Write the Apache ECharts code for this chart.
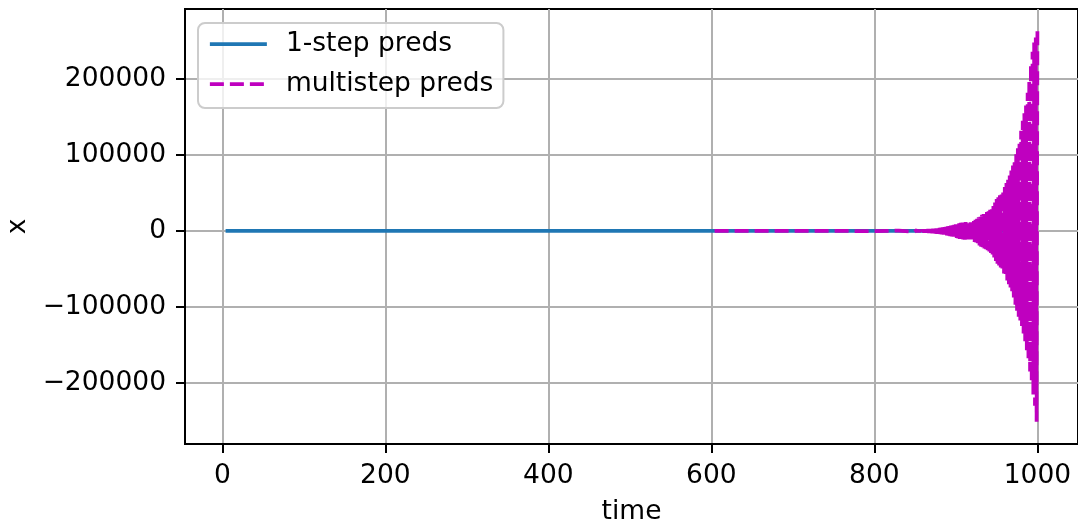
<!DOCTYPE html>
<html lang="en">
<head>
    <meta charset="UTF-8">
    <title>1-step vs multistep preds</title>
    <script src="https://cdn.jsdelivr.net/npm/echarts@6/dist/echarts.min.js"></script>
    <style>
        html, body { margin: 0; padding: 0; background: #fff; }
        #chart { width: 1078px; height: 523px; }
    </style>
</head>
<body>
    <div id="chart"></div>
    <script>
        // 1-step preds: flat at ~0 over the whole range
        const onestepTime = [4, 1000];
        const onestepVals = [0, 0];

        // multistep preds: flat until ~850, then flips sign every step with growing amplitude
        const flatTime = [604, 700, 760, 800, 830, 849];
        const flatVals = [0, 0, 100, -300, 600, -1100];
        const growStart = 850; // one value per time step from here to 1000
        const growVals = [
            1200, -1250, 1300, -1350, 1400, -1500, 1550, -1600, 1700, -1750,
            1800, -1900, 2000, -2050, 2150, -2200, 2300, -2400, 2500, -2600,
            2700, -2800, 2900, -3000, 3100, -3200, 3350, -3450, 3600, -3750,
            3900, -4050, 4250, -4400, 4600, -4800, 5000, -5200, 5450, -5650,
            5900, -6150, 6400, -6650, 6900, -7200, 7500, -7800, 8100, -8400,
            8700, -9000, 9400, -9700, 10100, -10400, 10600, -10700, 10900, -11000,
            11200, -11400, 11700, -11900, 12200, -12500, 12700, -13000, 13300, -13500,
            13800, -14000, 14300, -14500, 14800, -15000, 16000, -17000, 18000, -19000,
            20000, -20600, 21200, -21800, 22400, -23000, 23600, -24200, 24800, -25400,
            26000, -27000, 28000, -29000, 30000, -31000, 33000, -35000, 37500, -40000,
            42000, -43000, 44500, -45500, 47000, -48000, 50000, -52000, 54000, -56000,
            58000, -60500, 63000, -65000, 67500, -70000, 73000, -76000, 79500, -82500,
            86000, -90000, 93500, -97000, 101000, -105000, 109000, -113000, 117000, -121000,
            132000, -125000, 145000, -135000, 155000, -145000, 165000, -157000, 182000, -170000,
            200000, -185000, 220000, -200000, 236000, -215000, 248000, -230000, 258000, -251000,
            264000
        ];

        const xTicks = [0, 200, 400, 600, 800, 1000];
        const yTicks = [-200000, -100000, 0, 100000, 200000];

        const font = 'DejaVu Sans';
        const fs = 26.5;

        const multiData = flatTime.map((t, i) => [t, flatVals[i]])
            .concat(growVals.map((v, i) => [growStart + i, v]));

        const chart = echarts.init(document.getElementById('chart'));

        const option = {
            animation: false,
            grid: {
                left: 185, top: 9, right: 0, bottom: 79,
                outerBoundsMode: 'none', containLabel: false,
                show: true, borderColor: '#000', borderWidth: 2
            },
            legend: {
                orient: 'vertical',
                left: 198, top: 23,
                itemWidth: 57, itemHeight: 14, itemGap: 10,
                padding: [6, 10, 9, 10],
                backgroundColor: 'rgba(255,255,255,0.8)',
                borderColor: '#cccccc', borderWidth: 2, borderRadius: 7,
                itemStyle: { opacity: 0 },
                lineStyle: { width: 3.75 },
                textStyle: { fontFamily: font, fontSize: fs, color: '#000', lineHeight: 30, padding: [0, 0, 0, 14] },
                data: ['1-step preds', 'multistep preds']
            },
            xAxis: {
                type: 'value',
                min: -45.8, max: 1049.8,
                name: 'time', nameLocation: 'middle', nameGap: 55,
                nameTextStyle: { fontFamily: font, fontSize: fs, color: '#000' },
                axisLine: { onZero: false, lineStyle: { color: '#000', width: 2 } },
                axisTick: { show: true, length: 9, lineStyle: { color: '#000', width: 2 }, customValues: xTicks },
                axisLabel: {
                    fontFamily: font, fontSize: fs, color: '#000', margin: 19, customValues: xTicks,
                    formatter: v => String(v)
                },
                splitLine: { show: true, lineStyle: { color: '#b0b0b0', width: 2 } }
            },
            yAxis: {
                type: 'value',
                min: -280300, max: 292100,
                name: 'x', nameLocation: 'middle', nameGap: 150, nameRotate: 90,
                nameTextStyle: { fontFamily: font, fontSize: fs, color: '#000' },
                axisLine: { show: true, onZero: false, lineStyle: { color: '#000', width: 2 } },
                axisTick: { show: true, length: 9, lineStyle: { color: '#000', width: 2 }, customValues: yTicks },
                axisLabel: {
                    fontFamily: font, fontSize: fs, color: '#000', margin: 19, customValues: yTicks,
                    formatter: v => v < 0 ? '\u2212' + Math.abs(v) : String(v)
                },
                splitLine: { show: true, lineStyle: { color: '#b0b0b0', width: 2 } }
            },
            series: [
                {
                    name: '1-step preds',
                    type: 'line',
                    showSymbol: false, symbol: 'none',
                    color: '#1f77b4',
                    lineStyle: { width: 3.75, color: '#1f77b4' },
                    data: onestepTime.map((t, i) => [t, onestepVals[i]])
                },
                {
                    name: 'multistep preds',
                    type: 'line',
                    showSymbol: false, symbol: 'none',
                    color: '#bf00bf',
                    lineStyle: { width: 3.75, color: '#bf00bf', type: [14, 6] },
                    data: multiData
                }
            ]
        };

        chart.setOption(option);
    </script>
</body>
</html>
